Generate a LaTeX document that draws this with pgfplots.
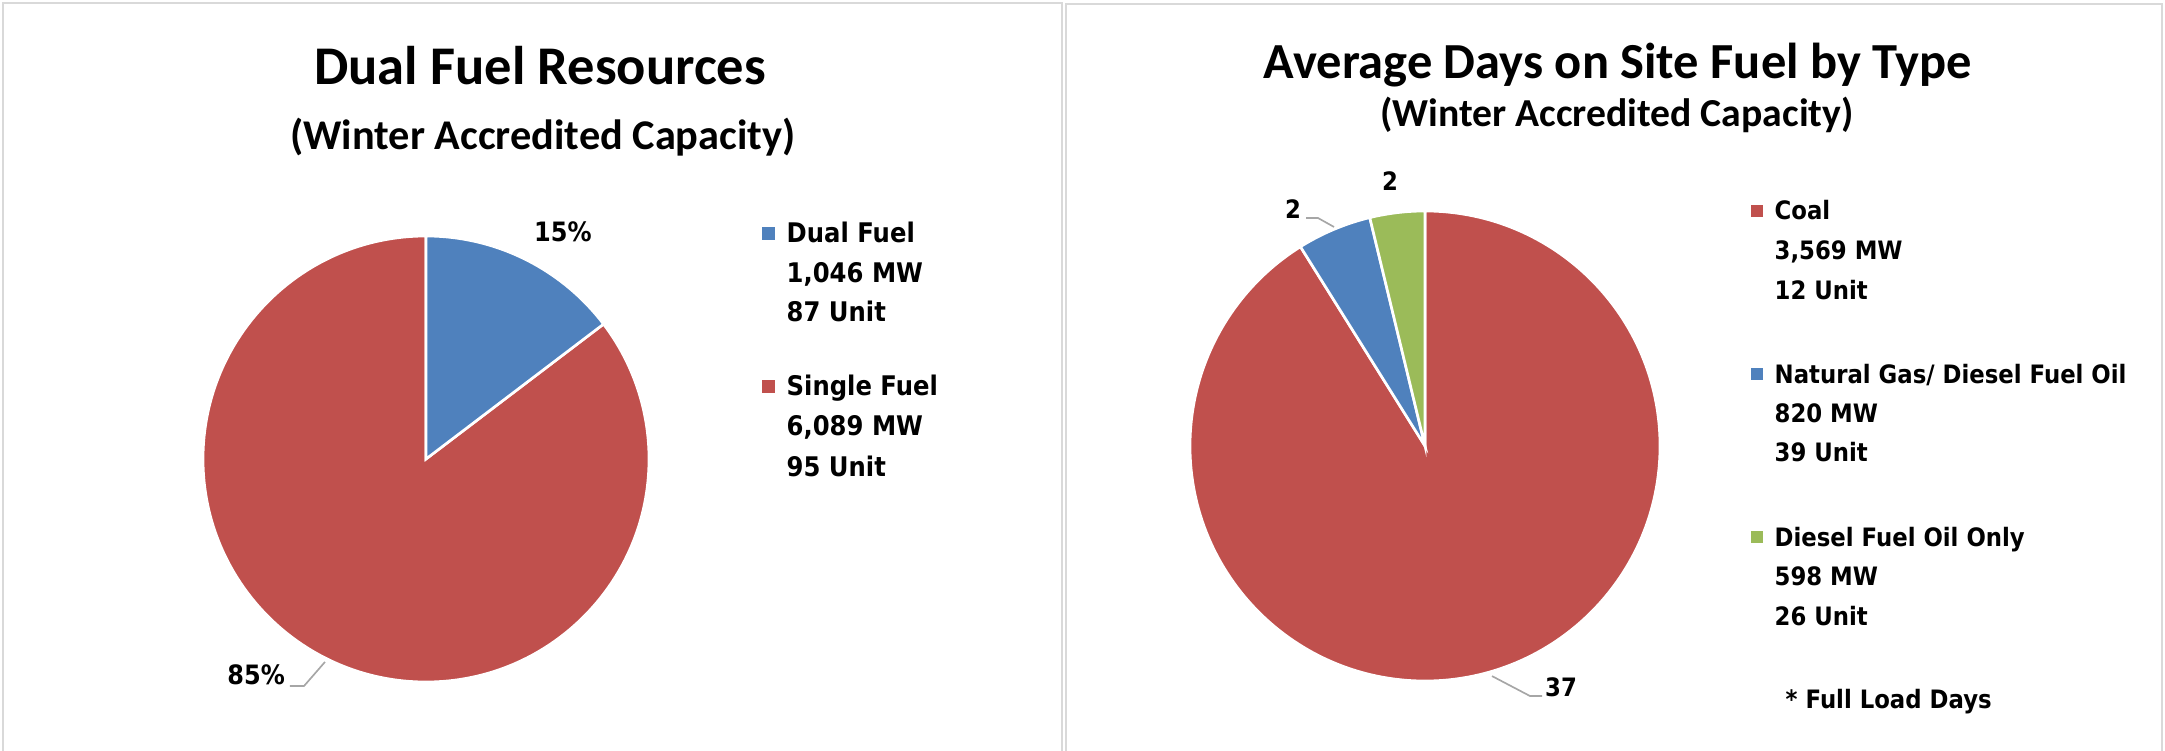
\documentclass[border=0pt]{standalone}
\usepackage{fontspec}
\setmainfont{Carlito}
\newfontfamily\lf{DejaVu Sans}[FakeStretch=0.9]
\usepackage{pgfplots}
\pgfplotsset{compat=1.18}
\usepackage{pgfplotstable}
\definecolor{pred}{HTML}{C0504D}
\definecolor{pblue}{HTML}{4F81BD}
\definecolor{pgreen}{HTML}{9BBB59}
\definecolor{lead}{HTML}{A6A6A6}
\definecolor{frame}{HTML}{D9D9D9}

\pgfplotstableread{
name value
Dual 1046
Single 6089
}\leftdata
\pgfplotstableread{
name value
Coal 37.4
NG 2.1
DFO 1.55
}\rightdata

\pgfplotstablegetelem{0}{value}\of\leftdata \let\vDual\pgfplotsretval
\pgfplotstablegetelem{1}{value}\of\leftdata \let\vSingle\pgfplotsretval
\pgfplotstablegetelem{0}{value}\of\rightdata \let\vCoal\pgfplotsretval
\pgfplotstablegetelem{1}{value}\of\rightdata \let\vNG\pgfplotsretval
\pgfplotstablegetelem{2}{value}\of\rightdata \let\vDFO\pgfplotsretval

\pgfmathsetmacro\fDual{\vDual/(\vDual+\vSingle)}
\pgfmathsetmacro\aDual{360*\fDual}
\pgfmathsetmacro\tR{\vCoal+\vNG+\vDFO}
\pgfmathsetmacro\aNG{360*\vNG/\tR}
\pgfmathsetmacro\aDFO{360*\vDFO/\tR}

\newcommand\ltext[4]{\node[anchor=base west, inner sep=0, font=\lf\bfseries\fontsize{#4}{#4}\selectfont] at (#1,#2) {#3};}

\begin{document}
\begin{tikzpicture}
\begin{scope}[x=0.3pt,y=-0.3pt]
\path[use as bounding box] (0,0) rectangle (2165,751);
\draw[frame, line width=0.7pt] (3,760) -- (3,3) -- (1062,3) -- (1062,760);
\draw[frame, line width=0.7pt] (1066,760) -- (1066,4) -- (2162,4) -- (2162,760);
% titles
\node[anchor=base, inner sep=0, font=\bfseries\fontsize{16.35}{16}\selectfont] at (540,85) {Dual Fuel Resources};
\node[anchor=base, inner sep=0, font=\bfseries\fontsize{12.7}{12}\selectfont] at (543,150) {(Winter Accredited Capacity)};
\node[anchor=base, inner sep=0, font=\bfseries\fontsize{15.15}{15}\selectfont] at (1618,79) {Average Days on Site Fuel by Type};
\node[anchor=base, inner sep=0, font=\bfseries\fontsize{11.9}{12}\selectfont] at (1617,127) {(Winter Accredited Capacity)};
% left legend
\fill[pblue] (762,227) rectangle (775,240);
\ltext{786}{243}{Dual Fuel}{8.1}
\ltext{786}{282}{1,046 MW}{8.1}
\ltext{786}{322}{87 Unit}{8.1}
\fill[pred] (762,380) rectangle (775,393);
\ltext{786}{395}{Single Fuel}{8.1}
\ltext{786}{435}{6,089 MW}{8.1}
\ltext{786}{476}{95 Unit}{8.1}
% right legend
\fill[pred] (1751,205) rectangle (1763,217);
\ltext{1774}{220}{Coal}{7.6}
\ltext{1774}{260}{3,569 MW}{7.6}
\ltext{1774}{299}{12 Unit}{7.6}
\fill[pblue] (1751,368) rectangle (1763,380);
\ltext{1774}{383}{Natural Gas/ Diesel Fuel Oil}{7.6}
\ltext{1774}{422}{820 MW}{7.6}
\ltext{1774}{461}{39 Unit}{7.6}
\fill[pgreen] (1751,531) rectangle (1763,543);
\ltext{1774}{546}{Diesel Fuel Oil Only}{7.6}
\ltext{1774}{585}{598 MW}{7.6}
\ltext{1774}{625}{26 Unit}{7.6}
\ltext{1785}{708}{* Full Load Days}{7.6}
\end{scope}

% left pie
\begin{axis}[at={({426*0.3pt},{-459*0.3pt})}, anchor=center, x=66.9pt, y=66.9pt,
  xmin=-1, xmax=1, ymin=-1, ymax=1, hide axis, clip=false]
\fill[pred, draw=white, line width=0.8pt] (axis cs:0,0) -- (axis cs:0,1)
  arc[start angle=90, end angle={450-\aDual}, radius=66.9pt] -- cycle;
\fill[pblue, draw=white, line width=0.8pt] (axis cs:0,0) -- (axis cs:{cos(90-\aDual)},{sin(90-\aDual)})
  arc[start angle={90-\aDual}, end angle=90, radius=66.9pt] -- cycle;
\node[font=\lf\bfseries\fontsize{8.0}{8}\selectfont] at (axis cs:0.614,1.018) {15\%};
\node[font=\lf\bfseries\fontsize{8.0}{8}\selectfont] at (axis cs:-0.762,-0.969) {85\%};
\draw[lead, line width=0.5pt] (axis cs:-0.610,-1.018) -- (axis cs:-0.547,-1.018) -- (axis cs:-0.453,-0.910);
\end{axis}

% right pie
\begin{axis}[at={({1425*0.3pt},{-446*0.3pt})}, anchor=center, x=70.5pt, y=70.5pt,
  xmin=-1, xmax=1, ymin=-1, ymax=1, hide axis, clip=false]
\fill[pred, draw=white, line width=0.8pt] (axis cs:0,0) -- (axis cs:0,1)
  arc[start angle=90, end angle={-270+\aNG+\aDFO}, radius=70.5pt] -- cycle;
\fill[pblue, draw=white, line width=0.8pt] (axis cs:0,0) -- (axis cs:{cos(90+\aDFO)},{sin(90+\aDFO)})
  arc[start angle={90+\aDFO}, end angle={90+\aDFO+\aNG}, radius=70.5pt] -- cycle;
\fill[pgreen, draw=white, line width=0.8pt] (axis cs:0,0) -- (axis cs:0,1)
  arc[start angle=90, end angle={90+\aDFO}, radius=70.5pt] -- cycle;
\node[font=\lf\bfseries\fontsize{7.6}{8}\selectfont] at (axis cs:-0.562,1.009) {2};
\node[font=\lf\bfseries\fontsize{7.6}{8}\selectfont] at (axis cs:-0.149,1.128) {2};
\node[font=\lf\bfseries\fontsize{7.6}{8}\selectfont] at (axis cs:0.579,-1.026) {37};
\draw[lead, line width=0.5pt] (axis cs:-0.506,0.970) -- (axis cs:-0.455,0.970) -- (axis cs:-0.387,0.932);
\draw[lead, line width=0.5pt] (axis cs:0.285,-0.979) -- (axis cs:0.447,-1.064) -- (axis cs:0.498,-1.064);
\end{axis}
\end{tikzpicture}
\end{document}
